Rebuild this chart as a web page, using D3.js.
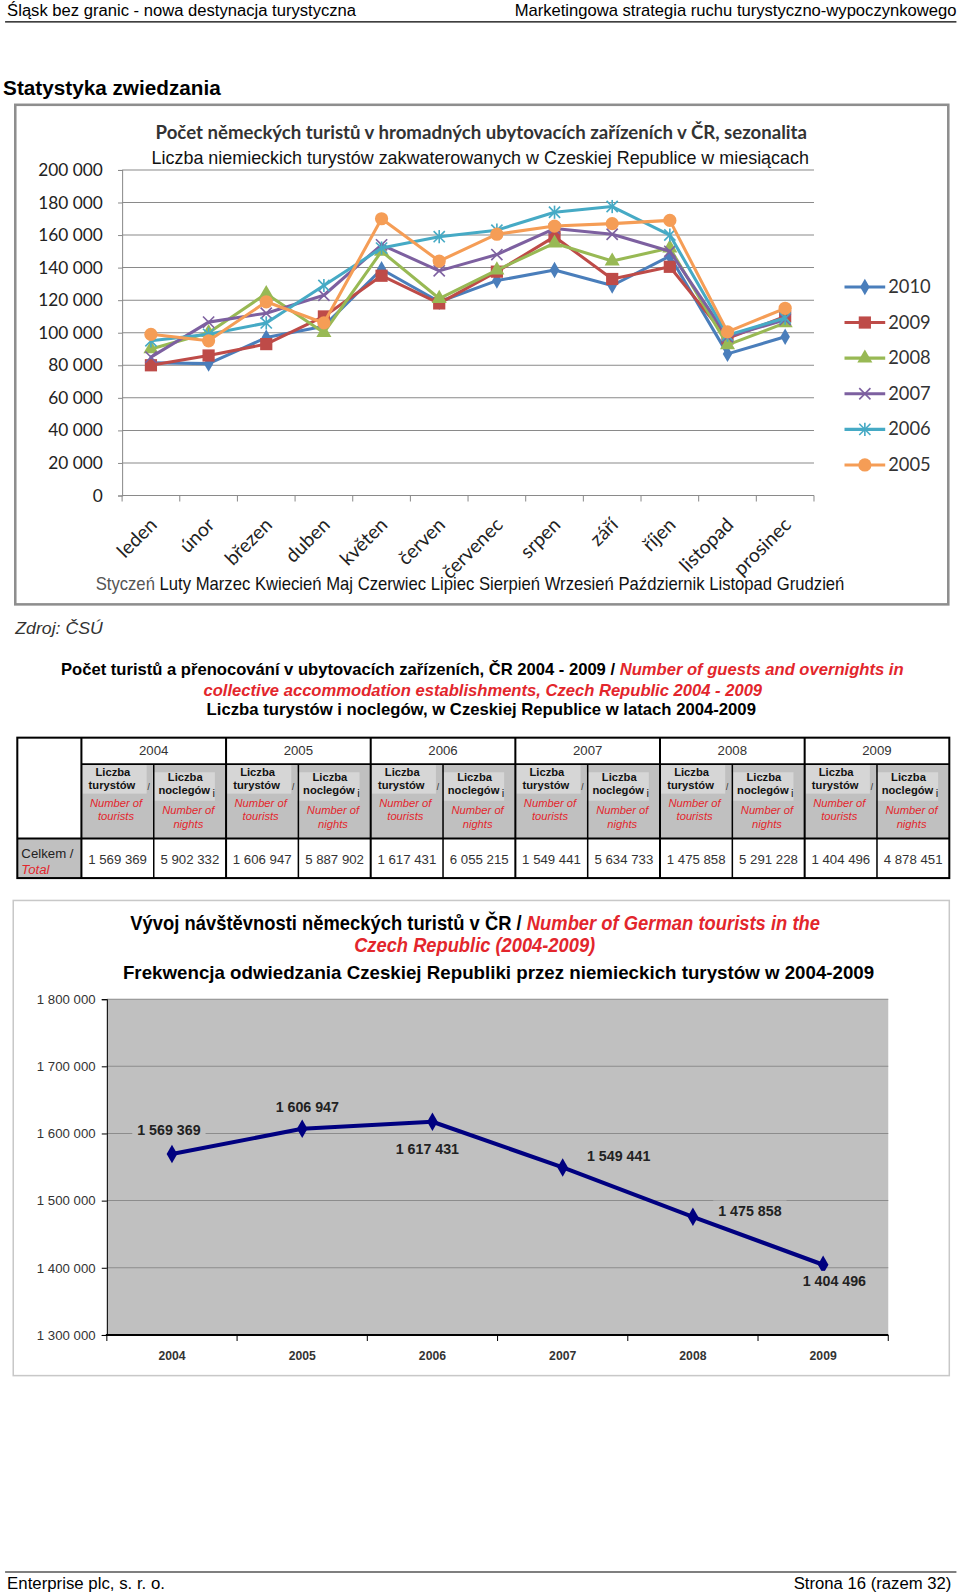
<!DOCTYPE html>
<html>
<head>
<meta charset="utf-8">
<script src="https://cdn.jsdelivr.net/npm/d3@7"></script>
<style>
  body { margin: 0; background: #fff; }
  svg { display: block; }
</style>
</head>
<body>
<svg id="page" width="960" height="1596"></svg>
<script>
// ---- data ----
const months = ["leden", "únor", "březen", "duben", "květen", "červen", "červenec", "srpen", "září", "říjen", "listopad", "prosinec"];
const monthsPl = ["Styczeń", "Luty", "Marzec", "Kwiecień", "Maj", "Czerwiec", "Lipiec", "Sierpień", "Wrzesień", "Październik", "Listopad", "Grudzień"];
const seasonYears = ["2010", "2009", "2008", "2007", "2006", "2005"];
const monthly2010 = [81500, 81000, 97000, 104000, 139000, 119000, 132000, 138500, 129000, 147000, 87000, 97500];
const monthly2009 = [80000, 86000, 93000, 110000, 135000, 118000, 137500, 159000, 133000, 140500, 96500, 110000];
const monthly2008 = [90000, 100000, 124000, 100000, 150000, 121000, 138500, 155000, 144000, 152000, 92500, 106000];
const monthly2007 = [85000, 106500, 112000, 123000, 154000, 138000, 148000, 164000, 160500, 150000, 97500, 108000];
const monthly2006 = [95000, 99000, 106000, 129000, 152000, 159000, 163000, 174000, 177500, 160000, 98500, 109000];
const monthly2005 = [99000, 95000, 119000, 106000, 170000, 144000, 160500, 165500, 167000, 169000, 100500, 115000];
const seasonTicks = [0, 20000, 40000, 60000, 80000, 100000, 120000, 140000, 160000, 180000, 200000];

const years = [2004, 2005, 2006, 2007, 2008, 2009];
const tourists = [1569369, 1606947, 1617431, 1549441, 1475858, 1404496];
const nights = [5902332, 5887902, 6055215, 5634733, 5291228, 4878451];
const trendTicks = [1300000, 1400000, 1500000, 1600000, 1700000, 1800000];

// ---- styles ----
const seasonColors = ["#4a7ebb", "#be4b48", "#98b954", "#7d60a0", "#46aac5", "#f59d56"];
const seasonShapes = ["diamond", "square", "triangle", "cross", "star", "circle"];
const trendLabelDx = [-3, 5, -5, 55, 56, 11];
const trendLabelDy = [-24, -22, 27, -11, -6, 16];

const SANS = "'Liberation Sans', Arial, sans-serif";
const CAL = "Lato, Carlito, Calibri, sans-serif";
const RED = "#e3262c";

const svg = d3.select("#page")
  .attr("viewBox", "0 0 943.5 1568.6");

const fmt = d3.formatLocale({ decimal: ",", thousands: " ", grouping: [3], currency: ["", ""] }).format(",d");

// scale font size so the line gets the width it has in the print
function fit(t, width) {
  const w = t.node().getComputedTextLength();
  const fs = parseFloat(t.attr("font-size"));
  t.attr("font-size", fs * width / w);
  return t;
}

// keep the font size, squeeze horizontally (no Arial Narrow here)
function squeeze(t, width) {
  const w = t.node().getComputedTextLength();
  const x = +t.attr("x");
  t.attr("transform", `translate(${x},0) scale(${width / w},1) translate(${-x},0)`);
  return t;
}

function text(g, x, y, str, size, opts = {}) {
  const t = g.append("text")
    .attr("x", x)
    .attr("y", y)
    .attr("font-family", opts.font || SANS)
    .attr("font-size", size)
    .attr("font-weight", opts.bold ? "bold" : null)
    .attr("font-style", opts.italic ? "italic" : null)
    .attr("text-anchor", opts.anchor || "start")
    .attr("fill", opts.color || "#000")
    .text(str);
  if (opts.width) (opts.narrow ? squeeze : fit)(t, opts.width);
  return t;
}

// ---- page header / footer ----
text(svg, 7, 16, "Śląsk bez granic - nowa destynacja turystyczna", 16, { width: 343 });
text(svg, 940, 16, "Marketingowa strategia ruchu turystyczno-wypoczynkowego", 16, { anchor: "end", width: 434 });
svg.append("line").attr("x1", 5).attr("x2", 940).attr("y1", 21.5).attr("y2", 21.5)
  .attr("stroke", "#000").attr("stroke-width", 1);
text(svg, 3, 93, "Statystyka zwiedzania", 19, { bold: true, width: 214 });

svg.append("line").attr("x1", 5).attr("x2", 940).attr("y1", 1545).attr("y2", 1545)
  .attr("stroke", "#000").attr("stroke-width", 1);
text(svg, 7, 1562, "Enterprise plc, s. r. o.", 16, { width: 155 });
text(svg, 935, 1562, "Strona 16 (razem 32)", 16, { anchor: "end", width: 155 });

// ---- chart 1: monthly German tourists ----
function drawMarker(g, shape, color) {
  if (shape === "diamond") {
    g.append("path").attr("d", d3.symbol(d3.symbolDiamond, 75)()).attr("fill", color);
  } else if (shape === "square") {
    g.append("rect").attr("x", -6).attr("y", -6).attr("width", 12).attr("height", 12).attr("fill", color);
  } else if (shape === "triangle") {
    g.append("path").attr("d", d3.symbol(d3.symbolTriangle, 95)()).attr("fill", color);
  } else if (shape === "circle") {
    g.append("circle").attr("r", 6.5).attr("fill", color);
  } else {
    const r = 5.5;
    const segs = [[-r, -r, r, r], [-r, r, r, -r]];
    if (shape === "star") segs.push([0, -r - 1, 0, r + 1]);
    segs.forEach(s => g.append("line")
      .attr("x1", s[0]).attr("y1", s[1]).attr("x2", s[2]).attr("y2", s[3])
      .attr("stroke", color).attr("stroke-width", 1.6));
  }
}

function drawSeason() {
  const g = svg.append("g");
  g.append("rect").attr("x", 15).attr("y", 103).attr("width", 917).attr("height", 491)
    .attr("fill", "#fff").attr("stroke", "#8e8e8e").attr("stroke-width", 2.5);

  const x = d3.scaleBand().domain(months).range([120, 800]);
  const y = d3.scaleLinear().domain([0, 200000]).range([487, 167]);

  g.append("g").selectAll("line")
    .data(seasonTicks.slice(1))
    .join("line")
    .attr("x1", 120).attr("x2", 800)
    .attr("y1", d => y(d)).attr("y2", d => y(d))
    .attr("stroke", "#8a8a8a").attr("stroke-width", 1);

  const ya = g.append("g")
    .attr("transform", "translate(120,0)")
    .call(d3.axisLeft(y).tickValues(seasonTicks).tickSize(4).tickPadding(15).tickFormat(fmt));
  ya.select(".domain").attr("stroke", "#8a8a8a");
  ya.selectAll(".tick line").attr("stroke", "#8a8a8a");
  ya.selectAll(".tick text").attr("font-family", CAL).attr("font-size", 17).attr("fill", "#222");

  g.append("line").attr("x1", 120).attr("x2", 800).attr("y1", y(0)).attr("y2", y(0))
    .attr("stroke", "#8a8a8a");
  g.append("g").selectAll("line")
    .data(months.map(m => x(m)).concat([800]))
    .join("line")
    .attr("x1", d => d).attr("x2", d => d)
    .attr("y1", y(0)).attr("y2", y(0) + 6)
    .attr("stroke", "#8a8a8a");

  g.append("g").selectAll("text")
    .data(months)
    .join("text")
    .attr("transform", d => `translate(${x(d) + x.bandwidth() / 2 + 7},${y(0) + 30}) rotate(-45)`)
    .attr("text-anchor", "end")
    .attr("font-family", CAL)
    .attr("font-size", 19)
    .attr("fill", "#222")
    .text(d => d);

  const series = [monthly2010, monthly2009, monthly2008, monthly2007, monthly2006, monthly2005];
  const line = d3.line()
    .x((d, i) => x(months[i]) + x.bandwidth() / 2)
    .y(d => y(d));

  series.forEach((vals, k) => {
    const sg = g.append("g");
    sg.append("path").attr("d", line(vals))
      .attr("fill", "none").attr("stroke", seasonColors[k]).attr("stroke-width", 3)
      .attr("stroke-linejoin", "round");
    sg.selectAll("g").data(vals).join("g")
      .attr("transform", (d, i) => `translate(${x(months[i]) + x.bandwidth() / 2},${y(d)})`)
      .each(function() { drawMarker(d3.select(this), seasonShapes[k], seasonColors[k]); });
  });

  // legend
  seasonYears.forEach((yr, k) => {
    const ly = 282 + k * 35;
    const lg = g.append("g");
    lg.append("line").attr("x1", 830).attr("x2", 870).attr("y1", ly).attr("y2", ly)
      .attr("stroke", seasonColors[k]).attr("stroke-width", 3);
    drawMarker(lg.append("g").attr("transform", `translate(850,${ly})`), seasonShapes[k], seasonColors[k]);
    text(lg, 873, ly + 6, yr, 18, { font: CAL, color: "#333" });
  });

  text(g, 473, 137, "Počet německých turistů v hromadných ubytovacích zařízeních v ČR, sezonalita", 17,
    { font: CAL, bold: true, anchor: "middle", color: "#333", width: 640 });
  text(g, 472, 161, "Liczba niemieckich turystów zakwaterowanych w Czeskiej Republice w miesiącach", 16,
    { anchor: "middle", color: "#111", width: 646 });

  const pl = g.append("text").attr("x", 94).attr("y", 580)
    .attr("font-family", SANS).attr("font-size", 17.5).attr("fill", "#111");
  pl.selectAll("tspan").data(monthsPl).join("tspan")
    .attr("fill", (d, i) => i === 0 ? "#555" : null)
    .text((d, i) => (i ? " " : "") + d);
  squeeze(pl, 736);

  text(svg, 15, 623, "Zdroj: ČSÚ", 17, { italic: true, color: "#333", width: 86, narrow: true });
}

// ---- table ----
function drawTable() {
  const g = svg.append("g");
  const lt = g.append("text").attr("x", 474).attr("y", 663).attr("text-anchor", "middle")
    .attr("font-family", SANS).attr("font-size", 17).attr("font-weight", "bold");
  lt.append("tspan").text("Počet turistů a přenocování v ubytovacích zařízeních, ČR 2004 - 2009 / ");
  lt.append("tspan").attr("fill", RED).attr("font-style", "italic").text("Number of guests and overnights in");
  squeeze(lt, 828);
  text(g, 474.5, 684, "collective accommodation establishments, Czech Republic 2004 - 2009", 17,
    { bold: true, italic: true, color: RED, anchor: "middle", width: 549, narrow: true });
  text(g, 473, 703, "Liczba turystów i noclegów, w Czeskiej Republice w latach 2004-2009", 16,
    { bold: true, anchor: "middle", width: 540 });

  const r0 = 725, r1 = 751, r2 = 824, r3 = 863;
  const cols = years.flatMap((yr, i) => [
    { year: yr, kind: "t", value: tourists[i] },
    { year: yr, kind: "n", value: nights[i] }
  ]);
  const sx = d3.scaleBand().domain(d3.range(cols.length)).range([80, 933]);
  const bw = sx.bandwidth();

  g.append("rect").attr("x", 80).attr("y", r1).attr("width", 853).attr("height", r2 - r1).attr("fill", "#c0c0c0");
  g.append("rect").attr("x", 17).attr("y", r2).attr("width", 63).attr("height", r3 - r2).attr("fill", "#c0c0c0");

  const cell = g.append("g").selectAll("g").data(cols).join("g")
    .attr("transform", (d, i) => `translate(${sx(i)},0)`);

  cell.append("rect")
    .attr("x", d => d.kind === "t" ? 1 : -1)
    .attr("y", d => d.kind === "t" ? r1 + 1 : r1 + 8)
    .attr("width", d => d.kind === "t" ? bw - 8 : bw - 10)
    .attr("height", 28)
    .attr("fill", "#d6d6d6");

  cell.each(function(d) {
    const c = d3.select(this);
    const t = d.kind === "t";
    const dy = t ? 0 : 5;
    text(c, 31, 763 + dy, "Liczba", 11, { bold: true, anchor: "middle", color: "#111" });
    text(c, 30, 775 + dy, t ? "turystów" : "noclegów", 11, { bold: true, anchor: "middle", color: "#111" });
    text(c, t ? 66 : 59, t ? 776 : 783, t ? "/" : "i", t ? 8 : 11, { anchor: "middle", color: "#222" });
    text(c, 34, (t ? 793 : 800), "Number of", 11, { italic: true, anchor: "middle", color: RED });
    text(c, 34, (t ? 806 : 814), t ? "tourists" : "nights", 11, { italic: true, anchor: "middle", color: RED });
    text(c, bw / 2, 849, fmt(d.value), 13, { anchor: "middle", color: "#333" });
  });

  g.append("g").selectAll("text").data(years).join("text")
    .attr("x", (d, i) => sx(i * 2) + bw)
    .attr("y", 742)
    .attr("text-anchor", "middle")
    .attr("font-family", SANS).attr("font-size", 13).attr("fill", "#333")
    .text(d => d);

  text(g, 21, 843, "Celkem /", 13, { color: "#222" });
  text(g, 21, 859, "Total", 13, { italic: true, color: RED });

  // grid of borders
  const b = g.append("g").attr("stroke", "#000").attr("fill", "none");
  b.append("rect").attr("x", 17).attr("y", r0).attr("width", 916).attr("height", r3 - r0).attr("stroke-width", 2);
  b.append("line").attr("x1", 80).attr("x2", 933).attr("y1", r1).attr("y2", r1).attr("stroke-width", 1.5);
  b.append("line").attr("x1", 17).attr("x2", 933).attr("y1", r2).attr("y2", r2).attr("stroke-width", 2);
  b.append("line").attr("x1", 80).attr("x2", 80).attr("y1", r0).attr("y2", r3).attr("stroke-width", 2);
  cols.forEach((d, i) => {
    if (i === 0) return;
    const major = i % 2 === 0;
    b.append("line").attr("x1", sx(i)).attr("x2", sx(i))
      .attr("y1", major ? r0 : r1).attr("y2", r3)
      .attr("stroke-width", major ? 2 : 1.5);
  });
}

// ---- chart 3: yearly trend ----
function drawTrend() {
  const g = svg.append("g");
  g.append("rect").attr("x", 13).attr("y", 885).attr("width", 920).attr("height", 467)
    .attr("fill", "#fff").attr("stroke", "#c8c8c8").attr("stroke-width", 1.5);

  const t1 = g.append("text").attr("x", 467).attr("y", 914).attr("text-anchor", "middle")
    .attr("font-family", SANS).attr("font-size", 19).attr("font-weight", "bold");
  t1.append("tspan").text("Vývoj návštěvnosti německých turistů v ČR / ");
  t1.append("tspan").attr("fill", RED).attr("font-style", "italic").text("Number of German tourists in the");
  squeeze(t1, 678);
  text(g, 466.5, 936, "Czech Republic (2004-2009)", 19,
    { bold: true, italic: true, color: RED, anchor: "middle", width: 237, narrow: true });
  text(g, 490, 962, "Frekwencja odwiedzania Czeskiej Republiki przez niemieckich turystów w 2004-2009", 18,
    { bold: true, anchor: "middle", width: 738, narrow: true });

  const x = d3.scaleBand().domain(years).range([105, 873]);
  const y = d3.scaleLinear().domain([1300000, 1800000]).range([1312, 982]);

  g.append("rect").attr("x", 105).attr("y", 982).attr("width", 768).attr("height", 330).attr("fill", "#c0c0c0");
  g.append("g").selectAll("line").data(trendTicks.slice(1)).join("line")
    .attr("x1", 105).attr("x2", 873)
    .attr("y1", d => y(d)).attr("y2", d => y(d))
    .attr("stroke", "#8c8c8c").attr("stroke-width", 1);

  const ya = g.append("g").attr("transform", "translate(105,0)")
    .call(d3.axisLeft(y).tickValues(trendTicks).tickSize(5).tickPadding(6).tickFormat(fmt));
  ya.select(".domain").attr("stroke", "#000");
  ya.selectAll(".tick line").attr("stroke", "#000");
  ya.selectAll(".tick text").attr("font-family", SANS).attr("font-size", 13).attr("fill", "#333");

  g.append("line").attr("x1", 104).attr("x2", 873).attr("y1", 1312).attr("y2", 1312)
    .attr("stroke", "#000").attr("stroke-width", 2);
  g.append("g").selectAll("line").data(years.map(d => x(d)).concat([873])).join("line")
    .attr("x1", d => d).attr("x2", d => d).attr("y1", 1312).attr("y2", 1318)
    .attr("stroke", "#000");
  g.append("g").selectAll("text").data(years).join("text")
    .attr("x", d => x(d) + x.bandwidth() / 2)
    .attr("y", 1337)
    .attr("text-anchor", "middle")
    .attr("font-family", SANS).attr("font-size", 12).attr("font-weight", "bold").attr("fill", "#333")
    .text(d => d);

  const cx = (d, i) => x(years[i]) + x.bandwidth() / 2;
  g.append("path")
    .attr("d", d3.line().x(cx).y(d => y(d))(tourists))
    .attr("fill", "none").attr("stroke", "#000080").attr("stroke-width", 4).attr("stroke-linejoin", "round");
  g.append("g").selectAll("path").data(tourists).join("path")
    .attr("transform", (d, i) => `translate(${cx(d, i)},${y(d)})`)
    .attr("d", d3.symbol(d3.symbolDiamond, 95)())
    .attr("fill", "#000080");

  const lab = g.append("g").selectAll("g").data(tourists).join("g")
    .attr("transform", (d, i) => `translate(${cx(d, i) + trendLabelDx[i]},${y(d) + trendLabelDy[i]})`);
  lab.append("rect").attr("x", -36).attr("y", -10).attr("width", 72).attr("height", 20).attr("fill", "#c0c0c0");
  lab.append("text")
    .attr("y", 5)
    .attr("text-anchor", "middle")
    .attr("font-family", SANS).attr("font-size", 14).attr("font-weight", "bold").attr("fill", "#222")
    .text(d => fmt(d));
}

drawSeason();
drawTable();
drawTrend();
</script>
</body>
</html>
